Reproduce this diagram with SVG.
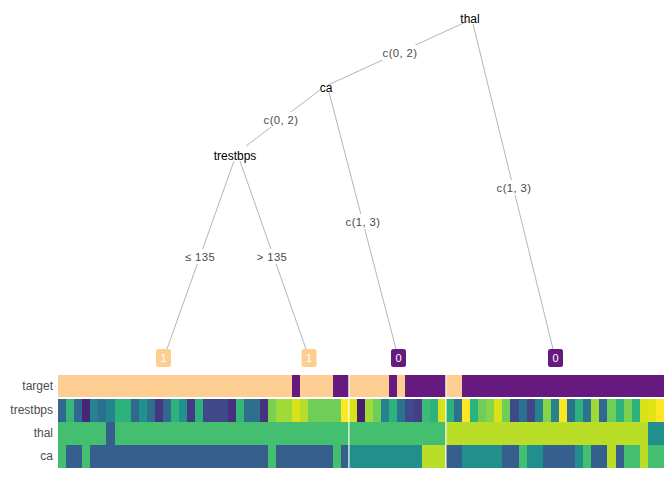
<svg xmlns="http://www.w3.org/2000/svg" width="672" height="480" viewBox="0 0 672 480">
<style>
.node{font-family:"Liberation Sans",Arial,sans-serif;font-size:12px;fill:#000;text-anchor:middle}
.elab{font-family:"Liberation Sans",Arial,sans-serif;font-size:11.3px;letter-spacing:0.4px;fill:#4a4a4a;text-anchor:middle}
.bg{fill:#fff}
.edge{stroke:#a3a3a3;stroke-width:0.8;fill:none}
.leaft{font-family:"Liberation Sans",Arial,sans-serif;font-size:11px;fill:#fff;text-anchor:middle}
.rowl{font-family:"Liberation Sans",Arial,sans-serif;font-size:12px;fill:#4d4d4d;text-anchor:end}
.o{fill:#fecd91}.p{fill:#661a80}
.g{fill:#44bf70}.b{fill:#355f8d}.t{fill:#21908d}.y{fill:#bade28}
</style>
<rect width="672" height="480" fill="#fff"/>
<g id="connectors">
<line class="edge" x1="468" y1="21" x2="328" y2="85"/>
<line class="edge" x1="473" y1="24" x2="553" y2="349"/>
<line class="edge" x1="320" y1="90" x2="246" y2="146"/>
<line class="edge" x1="329" y1="92" x2="396" y2="349"/>
<line class="edge" x1="234" y1="161" x2="167" y2="349"/>
<line class="edge" x1="240" y1="161" x2="306" y2="349"/>
<rect class="bg" x="379" y="45" width="42" height="15"/>
<text class="elab" x="400" y="56.5">c(0, 2)</text>
<rect class="bg" x="260" y="112" width="42" height="15"/>
<text class="elab" x="281" y="124">c(0, 2)</text>
<rect class="bg" x="342" y="214" width="42" height="15"/>
<text class="elab" x="363" y="226">c(1, 3)</text>
<rect class="bg" x="493" y="180" width="42" height="15"/>
<text class="elab" x="514" y="192">c(1, 3)</text>
<rect class="bg" x="184" y="249" width="33" height="15"/>
<text class="elab" x="200" y="261">≤ 135</text>
<rect class="bg" x="256" y="249" width="33" height="15"/>
<text class="elab" x="272" y="261">&gt; 135</text>
</g>
<g id="node-thal"><text class="node" x="470" y="22.5">thal</text></g>
<g id="node-ca"><text class="node" x="326" y="91.5">ca</text></g>
<g id="node-trestbps"><text class="node" x="235" y="159.5">trestbps</text></g>
<g id="leaf-1a"><rect x="156" y="349" width="15" height="18" rx="2.5" class="o"/><text class="leaft" x="163.5" y="362">1</text></g>
<g id="leaf-1b"><rect x="301.5" y="349" width="15" height="18" rx="2.5" class="o"/><text class="leaft" x="309" y="362">1</text></g>
<g id="leaf-0a"><rect x="391" y="349" width="15" height="18" rx="2.5" class="p"/><text class="leaft" x="398.5" y="362">0</text></g>
<g id="leaf-0b"><rect x="548" y="349" width="15" height="18" rx="2.5" class="p"/><text class="leaft" x="555.5" y="362">0</text></g>
<g id="row-labels">
<text class="rowl" x="53" y="390">target</text>
<text class="rowl" x="53" y="414">trestbps</text>
<text class="rowl" x="53" y="437">thal</text>
<text class="rowl" x="53" y="460">ca</text>
</g>
<g id="heat-target" shape-rendering="crispEdges">
<rect class="o" x="58" y="375" width="234.32" height="22.3"/>
<rect class="p" x="292.32" y="375" width="8.08" height="22.3"/>
<rect class="o" x="300.4" y="375" width="32.32" height="22.3"/>
<rect class="p" x="332.72" y="375" width="16.16" height="22.3"/>
<rect class="o" x="348.88" y="375" width="40.4" height="22.3"/>
<rect class="p" x="389.28" y="375" width="8.08" height="22.3"/>
<rect class="o" x="397.36" y="375" width="8.08" height="22.3"/>
<rect class="p" x="405.44" y="375" width="40.4" height="22.3"/>
<rect class="o" x="445.84" y="375" width="16.16" height="22.3"/>
<rect class="p" x="462" y="375" width="202" height="22.3"/>
</g>
<g id="heat-trestbps" shape-rendering="crispEdges">
<rect fill="#31688e" x="58" y="398.7" width="8.08" height="23"/>
<rect fill="#35b779" x="66.08" y="398.7" width="8.08" height="23"/>
<rect fill="#31688e" x="74.16" y="398.7" width="8.08" height="23"/>
<rect fill="#482677" x="82.24" y="398.7" width="8.08" height="23"/>
<rect fill="#26828e" x="90.32" y="398.7" width="8.08" height="23"/>
<rect fill="#2d708e" x="98.4" y="398.7" width="8.08" height="23"/>
<rect fill="#25858e" x="106.48" y="398.7" width="8.08" height="23"/>
<rect fill="#2db27d" x="114.56" y="398.7" width="16.16" height="23"/>
<rect fill="#31688e" x="130.72" y="398.7" width="8.08" height="23"/>
<rect fill="#21918c" x="138.8" y="398.7" width="8.08" height="23"/>
<rect fill="#2d708e" x="146.88" y="398.7" width="8.08" height="23"/>
<rect fill="#453781" x="154.96" y="398.7" width="8.08" height="23"/>
<rect fill="#31688e" x="163.04" y="398.7" width="8.08" height="23"/>
<rect fill="#2db27d" x="171.12" y="398.7" width="8.08" height="23"/>
<rect fill="#21918c" x="179.2" y="398.7" width="8.08" height="23"/>
<rect fill="#453781" x="187.28" y="398.7" width="8.08" height="23"/>
<rect fill="#2db27d" x="195.36" y="398.7" width="8.08" height="23"/>
<rect fill="#3f4889" x="203.44" y="398.7" width="24.24" height="23"/>
<rect fill="#472f7d" x="227.68" y="398.7" width="8.08" height="23"/>
<rect fill="#35b779" x="235.76" y="398.7" width="8.08" height="23"/>
<rect fill="#2d708e" x="243.84" y="398.7" width="16.16" height="23"/>
<rect fill="#46337e" x="260" y="398.7" width="8.08" height="23"/>
<rect fill="#7ad151" x="268.08" y="398.7" width="8.08" height="23"/>
<rect fill="#a0da39" x="276.16" y="398.7" width="16.16" height="23"/>
<rect fill="#d8e219" x="292.32" y="398.7" width="8.08" height="23"/>
<rect fill="#b5de2b" x="300.4" y="398.7" width="8.08" height="23"/>
<rect fill="#6ece58" x="308.48" y="398.7" width="32.32" height="23"/>
<rect fill="#fde725" x="340.8" y="398.7" width="8.08" height="23"/>
<rect fill="#d8e219" x="348.88" y="398.7" width="8.08" height="23"/>
<rect fill="#481f70" x="356.96" y="398.7" width="8.08" height="23"/>
<rect fill="#a0da39" x="365.04" y="398.7" width="8.08" height="23"/>
<rect fill="#6ece58" x="373.12" y="398.7" width="8.08" height="23"/>
<rect fill="#26828e" x="381.2" y="398.7" width="8.08" height="23"/>
<rect fill="#2db27d" x="389.28" y="398.7" width="8.08" height="23"/>
<rect fill="#2c728e" x="397.36" y="398.7" width="8.08" height="23"/>
<rect fill="#3e4a89" x="405.44" y="398.7" width="8.08" height="23"/>
<rect fill="#433e85" x="413.52" y="398.7" width="8.08" height="23"/>
<rect fill="#3bbb75" x="421.6" y="398.7" width="8.08" height="23"/>
<rect fill="#2db27d" x="429.68" y="398.7" width="8.08" height="23"/>
<rect fill="#d8e219" x="437.76" y="398.7" width="8.08" height="23"/>
<rect fill="#2db27d" x="445.84" y="398.7" width="8.08" height="23"/>
<rect fill="#2c728e" x="453.92" y="398.7" width="8.08" height="23"/>
<rect fill="#fde725" x="462" y="398.7" width="8.08" height="23"/>
<rect fill="#2db27d" x="470.08" y="398.7" width="8.08" height="23"/>
<rect fill="#6ece58" x="478.16" y="398.7" width="8.08" height="23"/>
<rect fill="#86d549" x="486.24" y="398.7" width="8.08" height="23"/>
<rect fill="#d8e219" x="494.32" y="398.7" width="8.08" height="23"/>
<rect fill="#6ece58" x="502.4" y="398.7" width="8.08" height="23"/>
<rect fill="#3e4a89" x="510.48" y="398.7" width="8.08" height="23"/>
<rect fill="#2c728e" x="518.56" y="398.7" width="8.08" height="23"/>
<rect fill="#414487" x="526.64" y="398.7" width="8.08" height="23"/>
<rect fill="#26828e" x="534.72" y="398.7" width="8.08" height="23"/>
<rect fill="#86d549" x="542.8" y="398.7" width="8.08" height="23"/>
<rect fill="#26828e" x="550.88" y="398.7" width="8.08" height="23"/>
<rect fill="#fde725" x="558.96" y="398.7" width="8.08" height="23"/>
<rect fill="#2c728e" x="567.04" y="398.7" width="8.08" height="23"/>
<rect fill="#2db27d" x="575.12" y="398.7" width="8.08" height="23"/>
<rect fill="#2c728e" x="583.2" y="398.7" width="8.08" height="23"/>
<rect fill="#a0da39" x="591.28" y="398.7" width="8.08" height="23"/>
<rect fill="#31688e" x="599.36" y="398.7" width="8.08" height="23"/>
<rect fill="#6ece58" x="607.44" y="398.7" width="8.08" height="23"/>
<rect fill="#2db27d" x="615.52" y="398.7" width="8.08" height="23"/>
<rect fill="#7ad151" x="623.6" y="398.7" width="8.08" height="23"/>
<rect fill="#2db27d" x="631.68" y="398.7" width="8.08" height="23"/>
<rect fill="#d8e219" x="639.76" y="398.7" width="8.08" height="23"/>
<rect fill="#e2e418" x="647.84" y="398.7" width="8.08" height="23"/>
<rect fill="#fde725" x="655.92" y="398.7" width="8.08" height="23"/>
</g>
<g id="heat-thal" shape-rendering="crispEdges">
<rect class="g" x="58" y="421.7" width="48.48" height="23.1"/>
<rect class="b" x="106.48" y="421.7" width="8.08" height="23.1"/>
<rect class="g" x="114.56" y="421.7" width="331.28" height="23.1"/>
<rect class="y" x="445.84" y="421.7" width="202" height="23.1"/>
<rect class="t" x="647.84" y="421.7" width="16.16" height="23.1"/>
</g>
<g id="heat-ca" shape-rendering="crispEdges">
<rect class="g" x="58" y="444.8" width="8.08" height="23.2"/>
<rect class="b" x="66.08" y="444.8" width="16.16" height="23.2"/>
<rect class="g" x="82.24" y="444.8" width="8.08" height="23.2"/>
<rect class="b" x="90.32" y="444.8" width="177.76" height="23.2"/>
<rect class="g" x="268.08" y="444.8" width="8.08" height="23.2"/>
<rect class="b" x="276.16" y="444.8" width="56.56" height="23.2"/>
<rect class="g" x="332.72" y="444.8" width="8.08" height="23.2"/>
<rect class="b" x="340.8" y="444.8" width="8.08" height="23.2"/>
<rect class="t" x="348.88" y="444.8" width="72.72" height="23.2"/>
<rect class="y" x="421.6" y="444.8" width="24.24" height="23.2"/>
<rect class="b" x="445.84" y="444.8" width="16.16" height="23.2"/>
<rect class="t" x="462" y="444.8" width="40.4" height="23.2"/>
<rect class="b" x="502.4" y="444.8" width="16.16" height="23.2"/>
<rect class="g" x="518.56" y="444.8" width="8.08" height="23.2"/>
<rect class="t" x="526.64" y="444.8" width="16.16" height="23.2"/>
<rect class="b" x="542.8" y="444.8" width="32.32" height="23.2"/>
<rect class="t" x="575.12" y="444.8" width="8.08" height="23.2"/>
<rect class="g" x="583.2" y="444.8" width="8.08" height="23.2"/>
<rect class="b" x="591.28" y="444.8" width="16.16" height="23.2"/>
<rect class="y" x="607.44" y="444.8" width="8.08" height="23.2"/>
<rect class="b" x="615.52" y="444.8" width="8.08" height="23.2"/>
<rect class="g" x="623.6" y="444.8" width="16.16" height="23.2"/>
<rect class="y" x="639.76" y="444.8" width="8.08" height="23.2"/>
<rect class="g" x="647.84" y="444.8" width="16.16" height="23.2"/>
</g>
<g id="separators" stroke="#fff" stroke-width="1.2">
<line x1="348.9" y1="375" x2="348.9" y2="468"/>
<line x1="445.9" y1="375" x2="445.9" y2="468"/>
</g>
</svg>
